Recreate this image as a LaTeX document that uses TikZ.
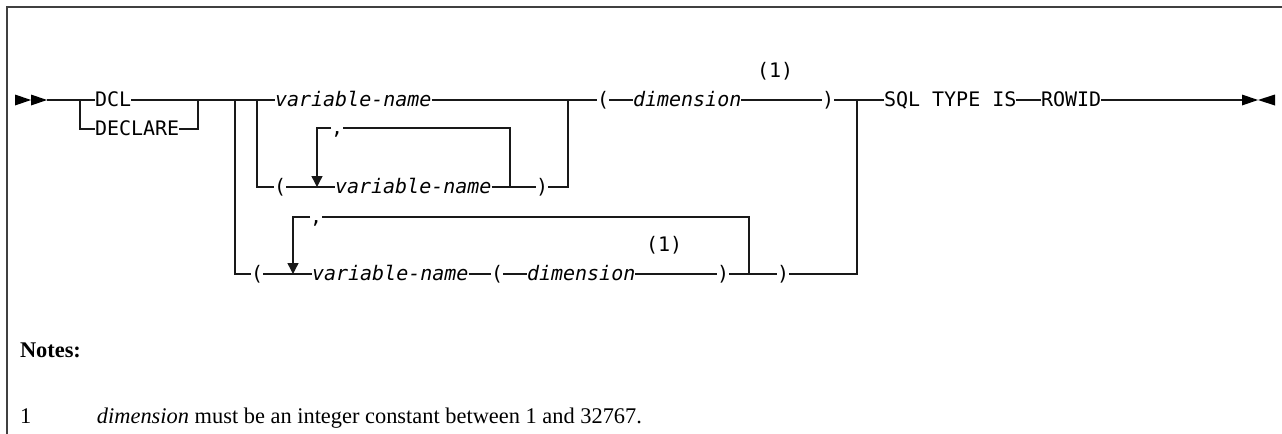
\documentclass[tikz,border=0pt]{standalone}
\usepackage{fontspec}
\setmainfont{Liberation Serif}
\setmonofont{DejaVu Sans Mono}
\usetikzlibrary{arrows.meta}

\begin{document}
\begin{tikzpicture}[
    x=0.5pt, y=-0.5pt,
    every node/.style={inner sep=0pt, outer sep=0pt},
    kw/.style={
        font=\ttfamily,
        anchor=west,
        text height=6.4pt,
        text depth=0pt,
    },
    var/.style={kw, font=\ttfamily\itshape},
    rail/.style={line width=0.7pt, black!90},
    repeatrail/.style={rail, -{Triangle[length=5.5pt,width=5.5pt]}},
    frameline/.style={line width=1pt, black!75},
    notetext/.style={font=\fontsize{11.2}{13}\selectfont, anchor=base west},
]

\useasboundingbox (0,0) rectangle (1282,434);

% Rail rows (y in pixels, downwards)
\def\yA{100}   % main line
\def\yB{129}   % DECLARE
\def\yC{128}   % repeat line above inner list
\def\yD{187}   % inner list
\def\yE{217}   % repeat line above outer list
\def\yF{274}   % outer list

% --- Frame ---
\draw[frameline] (1282,6.5) -- (6.5,6.5) -- (6.5,434);

% --- Start and end marks ---
\fill (15,94.5) -- (31,100) -- (15,105.5) -- cycle;
\fill (31,94.5) -- (47,100) -- (31,105.5) -- cycle;
\fill (1242,94.5) -- (1258,100) -- (1242,105.5) -- cycle;
\fill (1275,94.5) -- (1258,100) -- (1275,105.5) -- cycle;
\coordinate (start) at (47,\yA);
\coordinate (stop) at (1242,\yA);

% --- Junctions ---
\coordinate (jKey) at (80,\yA);
\coordinate (jKeyEnd) at (198,\yA);
\coordinate (jOuter) at (235,\yA);
\coordinate (jInner) at (257,\yA);
\coordinate (jInnerEnd) at (568,\yA);
\coordinate (jAll) at (857,\yA);
\coordinate (jLoopD) at (510,\yD);
\coordinate (jLoopF) at (749,\yF);
\coordinate (tipD) at (317,\yD);
\coordinate (tipF) at (293,\yF);

% --- Main line ---
\node[kw] (dcl) at (95,\yA) {DCL};
\node[kw] (declare) at (95,\yB) {DECLARE};
\node[var] (nameA) at (275,\yA) {variable-name};
\node[kw] (lparA) at (597,\yA) {(};
\node[var] (dimA) at (633,\yA) {dimension};
\node[kw] (noteA) at (757,71) {(1)};
\node[kw] (rparA) at (822,\yA) {)};
\node[kw] (sql) at (884,\yA) {SQL TYPE IS};
\node[kw] (rowid) at (1041,\yA) {ROWID};

% --- Inner list ---
\node[kw] (commaC) at (331,\yC) {,};
\node[kw] (lparD) at (274,\yD) {(};
\node[var] (nameD) at (335,\yD) {variable-name};
\node[kw] (rparD) at (536,\yD) {)};

% --- Outer list ---
\node[kw] (commaE) at (310,\yE) {,};
\node[kw] (lparF) at (251,\yF) {(};
\node[var] (nameF) at (312,\yF) {variable-name};
\node[kw] (lparF2) at (491,\yF) {(};
\node[var] (dimF) at (527,\yF) {dimension};
\node[kw] (noteF) at (646,245) {(1)};
\node[kw] (rparF) at (717,\yF) {)};
\node[kw] (rparF2) at (777,\yF) {)};

% --- Rails ---
\draw[rail] (start) -- (dcl.west);
\draw[rail] (jKey) |- (declare.west);
\draw[rail] (declare.east) -| (jKeyEnd);
\draw[rail] (dcl.east) -- (nameA.west);
\draw[rail] (nameA.east) -- (lparA.west);
\draw[rail] (lparA.east) -- (dimA.west);
\draw[rail] (dimA.east) -- (rparA.west);
\draw[rail] (rparA.east) -- (sql.west);
\draw[rail] (sql.east) -- (rowid.west);
\draw[rail] (rowid.east) -- (stop);

\draw[rail] (jInner) |- (lparD.west);
\draw[rail] (lparD.east) -- (nameD.west);
\draw[rail] (nameD.east) -- (rparD.west);
\draw[rail] (rparD.east) -| (jInnerEnd);
\draw[rail] (jLoopD) |- (commaC.east);
\draw[repeatrail] (commaC.west) -| (tipD);

\draw[rail] (jOuter) |- (lparF.west);
\draw[rail] (lparF.east) -- (nameF.west);
\draw[rail] (nameF.east) -- (lparF2.west);
\draw[rail] (lparF2.east) -- (dimF.west);
\draw[rail] (dimF.east) -- (rparF.west);
\draw[rail] (rparF.east) -- (rparF2.west);
\draw[rail] (rparF2.east) -| (jAll);
\draw[rail] (jLoopF) |- (commaE.east);
\draw[repeatrail] (commaE.west) -| (tipF);

% --- Notes ---
\node[notetext, font=\fontsize{11.2}{13}\selectfont\bfseries] (notes) at (20,357) {Notes:};
\node[notetext] (noteNum) at (20,423) {1};
\node[notetext] (noteBody) at (97,423)
    {\textit{dimension} must be an integer constant between 1 and 32767.};

\end{tikzpicture}
\end{document}
